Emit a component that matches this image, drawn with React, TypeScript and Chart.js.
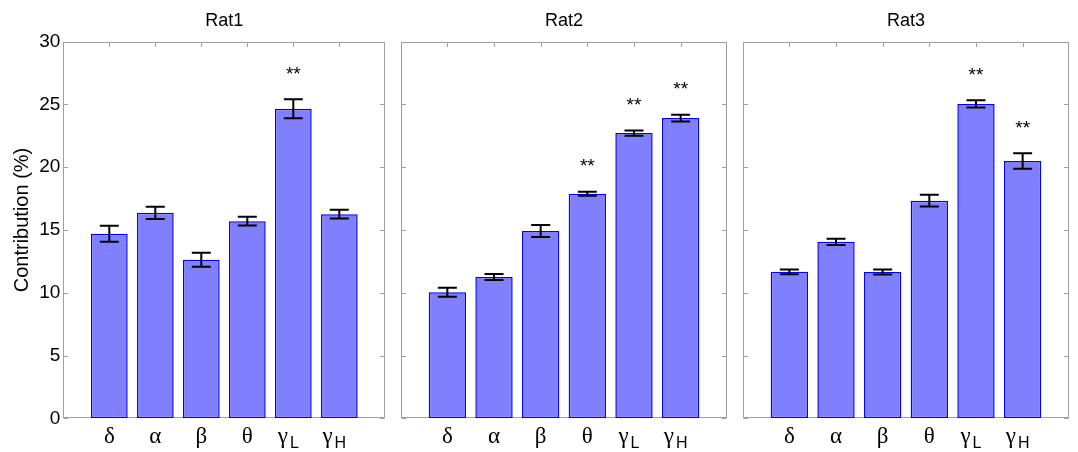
import React, { useEffect, useRef } from 'react';
import { Chart, registerables } from 'chart.js';

Chart.register(...registerables);

// ---------- data ----------
const categoryLetters = ['δ', 'α', 'β', 'θ', 'γ', 'γ'];
const categorySubscripts = ['', '', '', '', 'L', 'H'];
const yTickValues = [0, 5, 10, 15, 20, 25, 30];
const yAxisTitle = 'Contribution (%)';

const rat1Values = [14.7, 16.37, 12.63, 15.7, 24.66, 16.26];
const rat1Errors = [0.63, 0.49, 0.56, 0.35, 0.76, 0.35];
const rat1Significant = [false, false, false, false, true, false];

const rat2Values = [10.04, 11.25, 14.92, 17.88, 22.72, 23.92];
const rat2Errors = [0.35, 0.24, 0.48, 0.16, 0.21, 0.27];
const rat2Significant = [false, false, false, true, true, true];

const rat3Values = [11.67, 14.06, 11.66, 17.34, 25.04, 20.5];
const rat3Errors = [0.19, 0.25, 0.2, 0.46, 0.29, 0.62];
const rat3Significant = [false, false, false, false, true, true];

const SANS = '"Liberation Sans", Arial, Helvetica, sans-serif';
const SERIF = '"Liberation Serif", "Times New Roman", serif';

type PanelProps = {
  title: string;
  values: number[];
  errors: number[];
  significant: boolean[];
  canvasLeft: number;
  canvasWidth: number;
  plotLeft: number;
  plotRight: number;
  showYLabels: boolean;
};

const H = 452;
const PLOT_TOP = 41.7;
const PLOT_BOTTOM = 418.3;

function Panel(p: PanelProps) {
  const ref = useRef<HTMLCanvasElement | null>(null);
  useEffect(() => {
    const canvas = ref.current;
    if (!canvas) return;
    const labels = ['', ...categoryLetters.map((c, i) => c + categorySubscripts[i]), ''];
    const decor = {
      id: 'panelDecor',
      beforeDatasetsDraw(chart: any) {
        const { ctx, chartArea: a, scales } = chart;
        const x = scales.x;
        const y = scales.y;
        ctx.save();
        ctx.strokeStyle = '#a0a0a0';
        ctx.lineWidth = 1;
        const l = Math.round(a.left) + 0.5;
        const r = Math.round(a.right) - 0.5;
        const t = Math.round(a.top) + 0.5;
        const b = Math.round(a.bottom) - 0.5;
        ctx.strokeRect(l, t, r - l, b - t);
        ctx.beginPath();
        for (let i = 1; i <= categoryLetters.length; i++) {
          const px = Math.round(x.getPixelForValue(i)) + 0.5;
          ctx.moveTo(px, t);
          ctx.lineTo(px, t + 4.5);
          ctx.moveTo(px, b);
          ctx.lineTo(px, b - 4.5);
        }
        for (const v of yTickValues) {
          const py = Math.round(y.getPixelForValue(v)) + 0.5;
          ctx.moveTo(l, py);
          ctx.lineTo(l + 4.5, py);
          ctx.moveTo(r, py);
          ctx.lineTo(r - 4.5, py);
        }
        ctx.stroke();
        ctx.restore();
      },
      afterDatasetsDraw(chart: any) {
        const { ctx, chartArea: a, scales } = chart;
        const x = scales.x;
        const y = scales.y;
        ctx.save();
        // error bars
        ctx.strokeStyle = '#000';
        ctx.lineWidth = 2;
        p.values.forEach((v, i) => {
          const px = x.getPixelForValue(i + 1);
          const yt = y.getPixelForValue(v + p.errors[i]);
          const yb = y.getPixelForValue(v - p.errors[i]);
          ctx.beginPath();
          ctx.moveTo(px, yt);
          ctx.lineTo(px, yb);
          ctx.moveTo(px - 9.5, yt);
          ctx.lineTo(px + 9.5, yt);
          ctx.moveTo(px - 9.5, yb);
          ctx.lineTo(px + 9.5, yb);
          ctx.stroke();
          if (p.significant[i]) {
            ctx.fillStyle = '#000';
            ctx.font = `19px ${SANS}`;
            ctx.textAlign = 'center';
            ctx.textBaseline = 'alphabetic';
            ctx.fillText('**', px, yt - 30 + 10.5);
          }
        });
        // category labels
        ctx.fillStyle = '#000';
        ctx.textBaseline = 'alphabetic';
        categoryLetters.forEach((c, i) => {
          const px = x.getPixelForValue(i + 1);
          const sub = categorySubscripts[i];
          ctx.font = `23px ${SERIF}`;
          const wMain = ctx.measureText(c).width;
          if (!sub) {
            ctx.textAlign = 'center';
            ctx.fillText(c, px, 442.5);
          } else {
            ctx.font = `16px ${SANS}`;
            const wSub = ctx.measureText(sub).width;
            const start = px - 5 - (wMain + 2 + wSub) / 2;
            ctx.textAlign = 'left';
            ctx.font = `23px ${SERIF}`;
            ctx.fillText(c, start, 442.5);
            ctx.font = `16px ${SANS}`;
            ctx.fillText(sub, start + wMain + 2, 448.3);
          }
        });
        // panel title
        ctx.font = `18px ${SANS}`;
        ctx.textAlign = 'center';
        ctx.fillText(p.title, (a.left + a.right) / 2, 26);
        // y axis title
        if (p.showYLabels) {
          ctx.save();
          ctx.translate(22.5, 220);
          ctx.rotate(-Math.PI / 2);
          ctx.font = `20px ${SANS}`;
          ctx.textAlign = 'center';
          ctx.textBaseline = 'middle';
          ctx.fillText(yAxisTitle, 0, 0);
          ctx.restore();
        }
        ctx.restore();
      },
    };

    const chart = new Chart(canvas, {
      type: 'bar',
      data: {
        labels,
        datasets: [
          {
            data: [null, ...p.values, null] as any,
            backgroundColor: '#8080ff',
            borderColor: '#0000ff',
            borderWidth: 1.5,
            borderSkipped: false,
            barPercentage: 0.8,
            categoryPercentage: 1,
          },
        ],
      },
      options: {
        animation: false,
        responsive: false,
        devicePixelRatio: 1,
        layout: {
          padding: {
            left: 0,
            right: p.canvasWidth - p.plotRight,
            top: PLOT_TOP,
            bottom: 0,
          },
        },
        plugins: { legend: { display: false }, tooltip: { enabled: false }, title: { display: false } },
        scales: {
          x: {
            type: 'category',
            offset: false,
            grid: { display: false, drawTicks: false },
            border: { display: false },
            ticks: { display: false },
            afterFit: (s: any) => {
              s.height = H - PLOT_BOTTOM;
            },
          },
          y: {
            type: 'linear',
            min: 0,
            max: 30,
            grid: { display: false, drawTicks: false },
            border: { display: false },
            afterBuildTicks: (s: any) => {
              s.ticks = yTickValues.map((v) => ({ value: v }));
            },
            ticks: {
              display: p.showYLabels,
              color: '#000',
              padding: 3,
              font: { family: SANS, size: 19 },
            },
            afterFit: (s: any) => {
              s.width = p.plotLeft;
            },
          },
        },
      },
      plugins: [decor],
    });
    return () => chart.destroy();
  }, []);
  return (
    <canvas
      ref={ref}
      width={p.canvasWidth}
      height={H}
      style={{ position: 'absolute', left: p.canvasLeft, top: 0, width: p.canvasWidth, height: H }}
    />
  );
}

export default function App() {
  return (
    <div style={{ position: 'absolute', left: 0, top: 0, width: 1078, height: H, background: '#fff' }}>
      <Panel
        title="Rat1"
        values={rat1Values}
        errors={rat1Errors}
        significant={rat1Significant}
        canvasLeft={0}
        canvasWidth={392}
        plotLeft={63.3}
        plotRight={385.3}
        showYLabels={true}
      />
      <Panel
        title="Rat2"
        values={rat2Values}
        errors={rat2Errors}
        significant={rat2Significant}
        canvasLeft={392}
        canvasWidth={343}
        plotLeft={8.7}
        plotRight={335.3}
        showYLabels={false}
      />
      <Panel
        title="Rat3"
        values={rat3Values}
        errors={rat3Errors}
        significant={rat3Significant}
        canvasLeft={735}
        canvasWidth={343}
        plotLeft={7.7}
        plotRight={334.3}
        showYLabels={false}
      />
    </div>
  );
}
